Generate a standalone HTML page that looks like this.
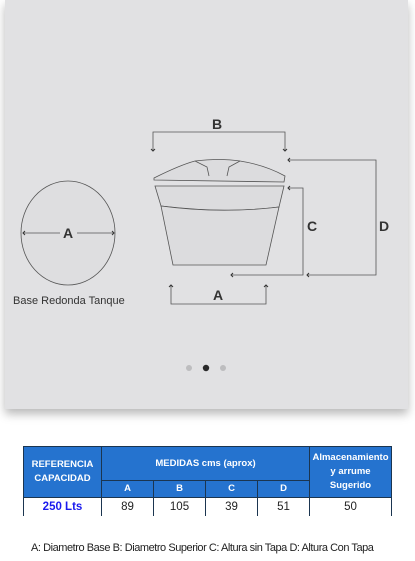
<!DOCTYPE html>
<html><head><meta charset="utf-8"><style>
body{margin:0;width:415px;height:561px;background:#fff;font-family:"Liberation Sans",sans-serif;overflow:hidden;position:relative}
#panel{position:absolute;left:5px;top:0;width:403px;height:409px;background:#e1e1e3;box-shadow:0 5px 9px rgba(0,0,0,0.28)}
svg{position:absolute;left:0;top:0}
table{position:absolute;left:23px;top:446px;border-collapse:collapse;font-family:"Liberation Sans",sans-serif;font-size:9.5px}
th{background:#2573cf;color:#fff;font-weight:bold;border:1.5px solid #1b3550;padding:0;text-align:center;line-height:14px}
td{text-align:center;font-size:11.5px;padding:0;height:18px;border-left:1.5px solid #1b3550;border-right:1.5px solid #1b3550;color:#222}
#note{position:absolute;left:31px;top:542px;font-size:11px;color:#222;letter-spacing:-0.45px;white-space:nowrap}
</style></head><body>
<div id="panel"></div>
<svg width="415" height="410" font-family="Liberation Sans, sans-serif">
<g fill="none" stroke="#555" stroke-width="0.8">
<ellipse cx="68" cy="233" rx="47" ry="52" fill="#dedee0"/>
<line x1="23" y1="233" x2="60" y2="233"/><line x1="77" y1="233" x2="114" y2="233"/>
<path d="M153 151V132H285V151"/>
<path d="M288 160H376V275H307"/>
<path d="M288 188H303V275H231"/>
<path d="M171 285V304H266V285"/>
<path d="M25 231L23 233L25 235M112 231L114 233L112 235M151 149L153 151L155 149M283 149L285 151L287 149M290 158L288 160L290 162M290 186L288 188L290 190M309 273L307 275L309 277M233 273L231 275L233 277M169 287L171 285L173 287M264 287L266 285L268 287" stroke="#333" stroke-width="1"/>
<g fill="#dcdcde">
<path d="M154 178Q180 165 195 161Q220 158 240 161Q265 165 285 176L284 182L154 180Z"/>
<path d="M195 161L207 167L209 176M240 161L229 167L227 176"/>
<path d="M155 186H284L279 207Q230 214 161 206Z"/>
<path d="M161 206Q220 214 279 207L266 265H173Z"/>
</g>
</g>
<g font-weight="bold" font-size="14" fill="#333" text-anchor="middle">
<text x="68" y="238">A</text>
<text x="217" y="129">B</text>
<text x="312" y="231">C</text>
<text x="384" y="231">D</text>
<text x="218" y="300">A</text>
</g>
<text x="13" y="304" font-size="11" fill="#333">Base Redonda Tanque</text>
<circle cx="189" cy="368" r="3" fill="#bdbdbf"/>
<circle cx="206" cy="368" r="3.2" fill="#2a2a2a"/>
<circle cx="223" cy="368" r="3" fill="#bdbdbf"/>
</svg>
<table>
<tr style="height:34px"><th rowspan="2" style="width:77px">REFERENCIA<br>CAPACIDAD</th><th colspan="4">MEDIDAS cms (aprox)</th><th rowspan="2" style="width:81px">Almacenamiento<br>y arrume<br>Sugerido</th></tr>
<tr style="height:17px"><th style="width:51px">A</th><th style="width:51px">B</th><th style="width:51px">C</th><th style="width:51px">D</th></tr>
<tr><td style="color:#1a1aee;font-weight:bold">250 Lts</td><td>89</td><td>105</td><td>39</td><td>51</td><td>50</td></tr>
</table>
<div id="note">A: Diametro Base B: Diametro Superior C: Altura sin Tapa D: Altura Con Tapa</div>
</body></html>
